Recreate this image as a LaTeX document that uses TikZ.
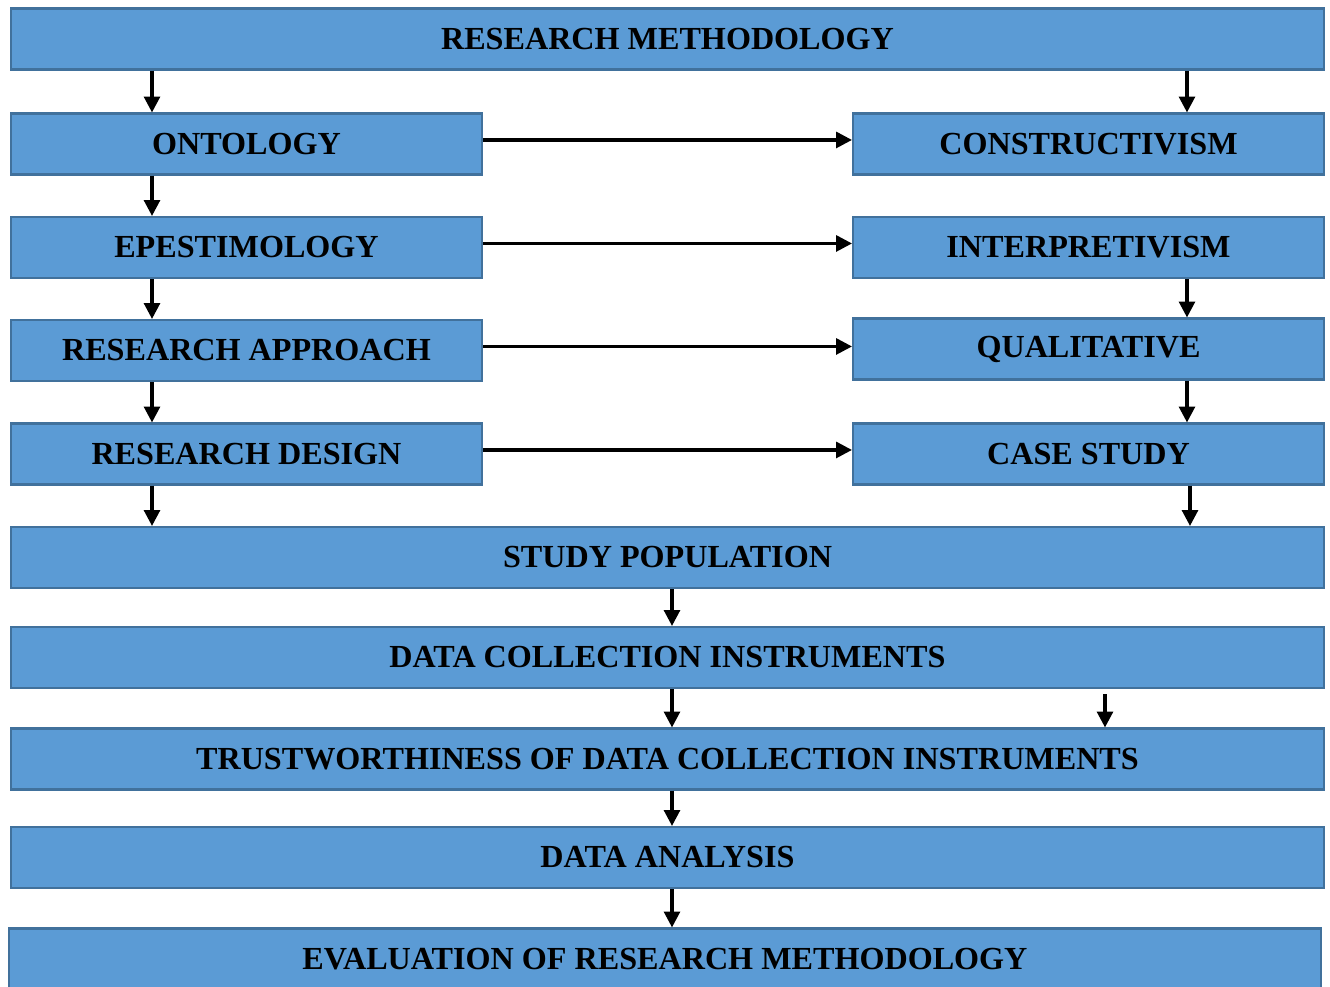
\documentclass[tikz,border=0pt]{standalone}
\usepackage{fontspec}
\setmainfont{Liberation Serif}
\usepackage{xcolor}
\usepackage{tikz}
\usetikzlibrary{arrows.meta}
\usetikzlibrary{positioning}

\definecolor{boxfill}{HTML}{5B9BD5}
\definecolor{boxline}{HTML}{41719C}

\begin{document}
\begin{tikzpicture}[
  x=0.02cm, y=-0.02cm,
  every node/.style={rectangle,draw=boxline,fill=boxfill,line width=1.2pt,
    minimum height=1.22cm,inner sep=0pt,font=\fontsize{18.3}{21}\selectfont\bfseries},
  wide/.style={minimum width=26.25cm},
  half/.style={minimum width=9.42cm},
  every path/.style={->,line width=1.8pt},
]
\tikzset{>={Triangle[length=9pt,width=9pt]}}
\useasboundingbox (0,0) rectangle (1330,987);
\coordinate (xl) at (152,0); \coordinate (xr) at (1187,0);
\coordinate (xm) at (672,0); \coordinate (xe) at (1105,0);
\coordinate (xs) at (1190,0);
\node[wide](rm) at(667.5,39){RESEARCH METHODOLOGY};
\node[half](ont) at(246.5,144){ONTOLOGY};
\node[half](epi) at(246.5,247.5){EPESTIMOLOGY};
\node[half](app) at(246.5,350.5){RESEARCH APPROACH};
\node[half](des) at(246.5,454){RESEARCH DESIGN};
\node[half](con) at(1088.5,144){CONSTRUCTIVISM};
\node[half](int) at(1088.5,247.5){INTERPRETIVISM};
\node[half](qua) at(1088.5,349){QUALITATIVE};
\node[half](cas) at(1088.5,454){CASE STUDY};
\node[wide](pop) at(667.5,557.5){STUDY POPULATION};
\node[wide](ins) at(667.5,657.5){DATA COLLECTION INSTRUMENTS};
\node[wide](tru) at(667.5,759){TRUSTWORTHINESS OF DATA COLLECTION INSTRUMENTS};
\node[wide](ana) at(667.5,857.5){DATA ANALYSIS};
\node[wide](eva) at(665,959){EVALUATION OF RESEARCH METHODOLOGY};
\draw(rm.south -| xl)->(ont.north -| xl); \draw(rm.south -| xr)->(con.north -| xr);
\draw(ont.south -| xl)->(epi.north -| xl); \draw(epi.south -| xl)->(app.north -| xl);
\draw(app.south -| xl)->(des.north -| xl); \draw(des.south -| xl)->(pop.north -| xl);
\draw([yshift=2.3pt]ont.east)->([yshift=2.3pt]ont.east -| con.west);
\draw([yshift=2.3pt]epi.east)->([yshift=2.3pt]epi.east -| int.west);
\draw([yshift=2.3pt]app.east)->([yshift=2.3pt]app.east -| qua.west);
\draw([yshift=2.3pt]des.east)->([yshift=2.3pt]des.east -| cas.west);
\draw(int.south -| xr)->(qua.north -| xr); \draw(qua.south -| xr)->(cas.north -| xr);
\draw(cas.south -| xs)->(pop.north -| xs);
\draw(pop.south -| xm)->(ins.north -| xm); \draw(ins.south -| xm)->(tru.north -| xm);
\draw[shorten <=3pt](ins.south -| xe)->(tru.north -| xe);
\draw(tru.south -| xm)->(ana.north -| xm); \draw(ana.south -| xm)->(eva.north -| xm);
\end{tikzpicture}
\end{document}
